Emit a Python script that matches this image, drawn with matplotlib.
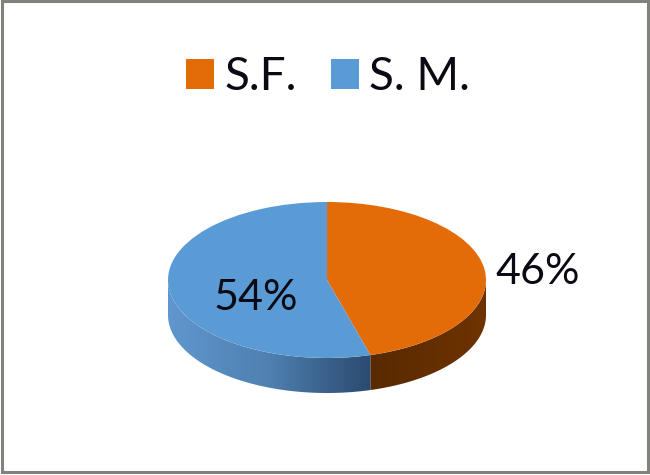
import numpy as np
import matplotlib
matplotlib.use("Agg")
import matplotlib.pyplot as plt
from matplotlib.colors import LinearSegmentedColormap
from matplotlib.patches import Polygon, Rectangle

# 凡例と値
labels = ["S.F.", "S. M."]
values = [45.6, 54.4]
colors = ["#E36C09", "#5B9BD5"]
wall_colors = [["#6E3300", "#592A00"], ["#5F97CE", "#4F80B0", "#2B4A6F"]]

W, H = 650, 475
DEPTH = 35 / 78  # 側面の厚み（半径を1とする）

plt.rcParams['font.family'] = ['Lato', 'DejaVu Sans']


def px(x, y):
    # ピクセル座標 -> figure座標
    return x / W, 1 - y / H


fig = plt.figure(figsize=(W / 100, H / 100), dpi=100)

# 外枠
x0, y0 = px(2, 472)
fig.add_artist(Rectangle((x0, y0), 646 / W, 471 / H, transform=fig.transFigure,
                         fill=False, edgecolor="#80837C", linewidth=2.2))

# 楕円に潰した円グラフ
left, bottom = px(168, 393)
ax = fig.add_axes([left, bottom, 318 / W, 191 / H])
wedges, _ = ax.pie(values, colors=colors, startangle=90, counterclock=False)

# 側面（下半分だけ見える）
boundary = np.deg2rad(values[0] / sum(values) * 360)
spans = [(np.pi / 2, boundary), (boundary, 3 * np.pi / 2)]
for (t0, t1), cols in zip(spans, wall_colors):
    t = np.linspace(t0, t1, 100)
    x, y = np.sin(t), np.cos(t)
    pts = np.vstack([np.c_[x, y], np.c_[x, y - DEPTH][::-1]])
    poly = Polygon(pts, closed=True, facecolor="none", edgecolor="none")
    ax.add_patch(poly)
    cmap = LinearSegmentedColormap.from_list("wall", cols)
    grad = np.linspace(0, 1, 256).reshape(1, -1)
    if t0 < np.pi / 2 + 1e-9:
        grad = grad[:, ::-1]  # 右側は左が終点
    im = ax.imshow(grad, cmap=cmap, aspect="auto", zorder=0.5,
                   extent=[x.min(), x.max(), (y - DEPTH).min(), y.max()])
    im.set_clip_path(poly)

ax.set_aspect("auto")
ax.set_xlim(-1, 1)
ax.set_ylim(-1 - DEPTH, 1)
ax.axis("off")

# パーセント表示
tx, ty = px(538, 272)
fig.text(tx, ty, f"{values[0]:.0f}%", fontsize=31, color="#0A0A14", ha="center", va="center")
tx, ty = px(256, 298)
fig.text(tx, ty, f"{values[1]:.0f}%", fontsize=31, color="#0A0A14", ha="center", va="center")

# 凡例
fig.legend(wedges, labels, loc="center", bbox_to_anchor=px(328, 77), ncol=2, frameon=False,
           fontsize=33, labelcolor="#0A0A14", handlelength=0.61, handleheight=0.61,
           handletextpad=0.22, columnspacing=0.75)

fig.savefig("out.png", dpi=100)
